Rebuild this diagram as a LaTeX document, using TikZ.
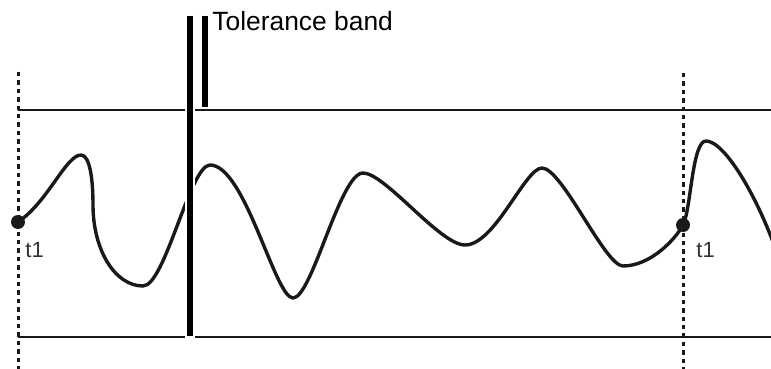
\documentclass[tikz,border=0pt]{standalone}
\usepackage{fontspec}
\setmainfont{Liberation Sans}
\usetikzlibrary{positioning}

\begin{document}
\begin{tikzpicture}[
    x=0.5pt, y=-0.5pt,
    band/.style={line width=1.2pt, black!90},
    marker/.style={line width=1.5pt, black!90, dash pattern=on 2.2pt off 2pt},
    signal/.style={line width=1.7pt, black!90, line join=round},
    bar/.style={line width=3pt, line cap=butt},
    dot/.style={circle, fill=black!90, inner sep=0pt, minimum size=7pt},
    lbl/.style={font=\fontsize{11}{12}\selectfont, text=black!80, inner sep=0pt, anchor=base west}
  ]
\useasboundingbox (0,0) rectangle (771,369);
\begin{scope}
\clip (0,0) rectangle (771,369);

% time markers
\coordinate (m1top) at (18,72);
\coordinate (m1bot) at (18,372);
\coordinate (m2top) at (683,73);
\coordinate (m2bot) at (683,372);
\draw[marker] (m1top) -- (m1bot);
\draw[marker] (m2top) -- (m2bot);

% tolerance limits
\coordinate (upL) at (18,110);
\coordinate (upR) at (775,110);
\coordinate (loL) at (18,337);
\coordinate (loR) at (775,337);
\draw[band] (upL) -- (upR);
\draw[band] (loL) -- (loR);

% signal
\draw[signal] (18,222)
  .. controls (48,202) and (66,155) .. (81,155)
  .. controls (90,155) and (93,180) .. (93,205)
  .. controls (93,250) and (115,286) .. (143,286)
  .. controls (165,286) and (190,165) .. (210,165)
  .. controls (245,165) and (275,298) .. (293,298)
  .. controls (312,298) and (340,173) .. (363,173)
  .. controls (385,173) and (440,245) .. (465,245)
  .. controls (495,245) and (525,168) .. (542,168)
  .. controls (562,168) and (605,266) .. (623,266)
  .. controls (650,266) and (675,240) .. (683,225)
  .. controls (691,210) and (692,141) .. (706,141)
  .. controls (725,141) and (760,200) .. (780,262);

\node[dot] (p1) at (18,222) {};
\node[dot] (p2) at (683,225) {};
\node[lbl] (t1a) at (25,257) {t1};
\node[lbl] (t1b) at (696,257) {t1};

% bars
\coordinate (b1top) at (190,16);
\coordinate (b1bot) at (190,336);
\coordinate (b2top) at (205,16);
\coordinate (b2bot) at (205,107);
\draw[white, line width=5pt] ([yshift=1pt]b1top) -- ([yshift=-1.5pt]b1bot);
\draw[bar] (b1top) -- (b1bot);
\draw[bar] (b2top) -- (b2bot);
\end{scope}

\node[font=\fontsize{13.2}{15}\selectfont, inner sep=0pt, anchor=base west] (tol) at (212,31) {Tolerance band};
\end{tikzpicture}
\end{document}
